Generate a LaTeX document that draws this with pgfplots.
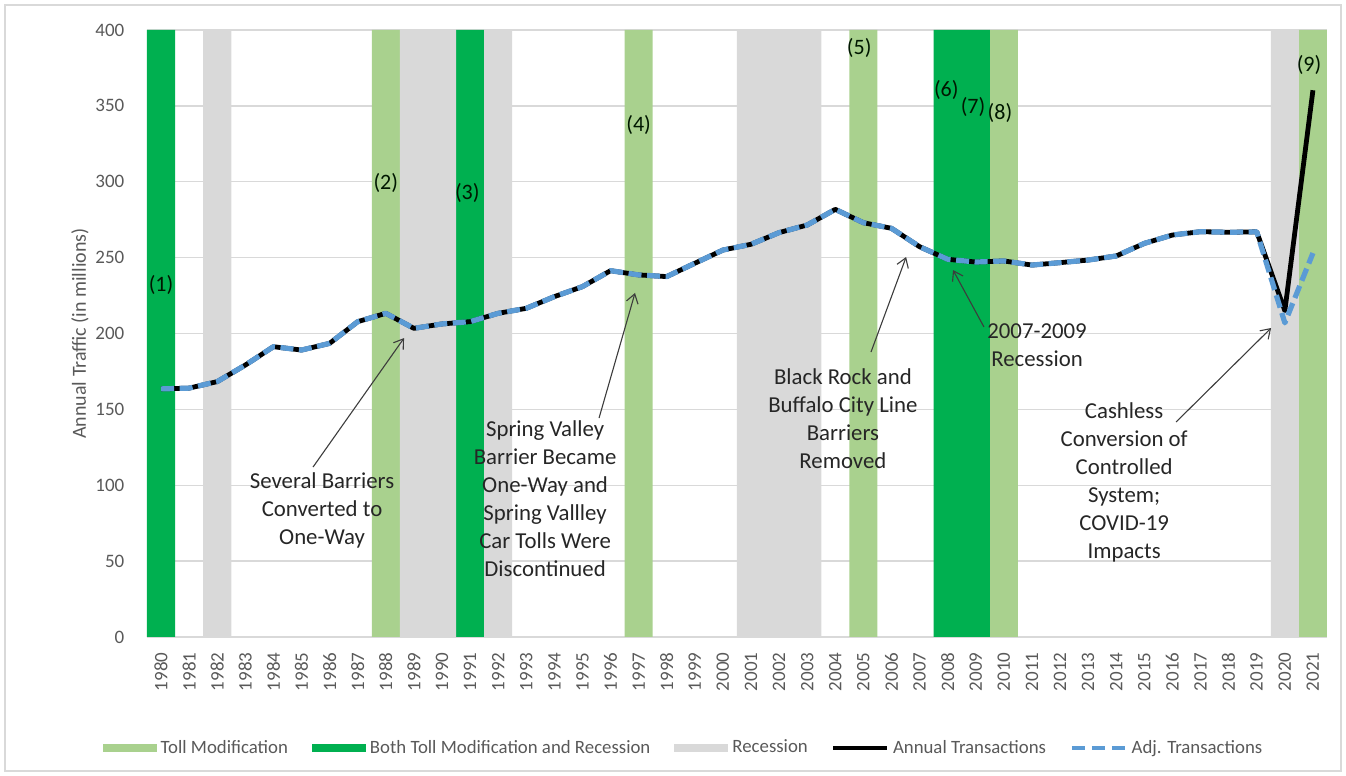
\documentclass[border=0pt]{standalone}
\usepackage{fontspec}
\setmainfont{Carlito}
\usepackage{pgfplots}
\usepackage{pgfplotstable}
\pgfplotsset{compat=1.18}
\usetikzlibrary{arrows.meta}

\definecolor{tollgreen}{HTML}{A9D18E}
\definecolor{bothgreen}{HTML}{00B050}
\definecolor{recgray}{HTML}{D9D9D9}
\definecolor{adjblue}{HTML}{5B9BD5}
\definecolor{axisgray}{HTML}{595959}
\definecolor{gridgray}{HTML}{D9D9D9}
\definecolor{notegray}{HTML}{262626}

% Annual traffic (millions of transactions)
\pgfplotstableread{
year annual adj
1980 163.5 163.5
1981 164.0 164.0
1982 168.3 168.3
1983 179.2 179.2
1984 191.3 191.3
1985 189.1 189.1
1986 193.5 193.5
1987 207.8 207.8
1988 213.3 213.3
1989 203.4 203.4
1990 206.3 206.3
1991 207.8 207.8
1992 213.3 213.3
1993 216.6 216.6
1994 224.3 224.3
1995 230.9 230.9
1996 241.4 241.4
1997 238.6 238.6
1998 237.5 237.5
1999 246.3 246.3
2000 255.0 255.0
2001 258.8 258.8
2002 266.5 266.5
2003 271.5 271.5
2004 281.8 281.8
2005 273.0 273.0
2006 269.3 269.3
2007 257.2 257.2
2008 248.9 248.9
2009 247.1 247.1
2010 247.8 247.8
2011 245.1 245.1
2012 246.7 246.7
2013 248.4 248.4
2014 251.1 251.1
2015 259.4 259.4
2016 264.9 264.9
2017 267.1 267.1
2018 266.7 266.7
2019 267.0 267.0
2020 215.0 207.0
2021 360.3 253.0
}\traffic

% Years with a toll modification
\pgfplotstableread{
year h
1988 400
1997 400
2005 400
2010 400
2021 400
}\tollyears

% Years with both a toll modification and a recession
\pgfplotstableread{
year h
1980 400
1991 400
2008 400
2009 400
}\bothyears

% Recession years
\pgfplotstableread{
year h
1982 400
1989 400
1990 400
1992 400
2001 400
2002 400
2003 400
2020 400
}\recyears

\begin{document}
\begin{tikzpicture}
\begin{axis}[
  scale only axis,
  width=590pt, height=303.5pt,
  xmin=1979.5, xmax=2021.5,
  ymin=0, ymax=400,
  xtick={1980,...,2021},
  ytick={0,50,...,400},
  axis x line*=bottom,
  axis y line*=left,
  x axis line style={draw=gridgray, line width=0.8pt, -},
  y axis line style={draw=none},
  major tick length=0pt,
  ymajorgrids,
  grid style={gridgray, line width=0.7pt},
  /pgf/number format/assume math mode=true,
  /pgf/number format/1000 sep={},
  tick label style={font=\fontsize{9.5}{11}\selectfont, text=axisgray},
  x tick label style={rotate=90, anchor=east},
  xticklabel shift=4.3pt,
  yticklabel shift=7.8pt,
  every axis y label/.style={at={(axis description cs:-0.0568,0.5)}, rotate=90, anchor=center},
  ylabel={Annual Traffic (in millions)},
  ylabel style={font=\fontsize{10}{12}\selectfont, text=axisgray},
  legend columns=5,
  legend style={draw=none, fill=none,
    at={(axis description cs:0.4555,-0.1829)}, anchor=center,
    font=\fontsize{9.4}{11}\selectfont, text=axisgray,
    /tikz/every even column/.append style={column sep=10pt}},
  clip=false,
]
\addplot[ybar, bar width=1, bar shift=0pt, fill=tollgreen, draw=none,
  legend image code/.code={\fill[tollgreen] (0pt,-2.2pt) rectangle (27pt,2.2pt);}]
  table[x=year, y=h] {\tollyears};
\addlegendentry{Toll Modification}
\addplot[ybar, bar width=1, bar shift=0pt, fill=bothgreen, draw=none,
  legend image code/.code={\fill[bothgreen] (0pt,-2.2pt) rectangle (27pt,2.2pt);}]
  table[x=year, y=h] {\bothyears};
\addlegendentry{Both Toll Modification and Recession}
\addplot[ybar, bar width=1, bar shift=0pt, fill=recgray, draw=none,
  legend image code/.code={\fill[recgray] (0pt,-2.2pt) rectangle (27pt,2.2pt);}]
  table[x=year, y=h] {\recyears};
\addlegendentry{Recession}
\addplot[black, line width=2.4pt, line join=round, mark=none,
  legend image code/.code={\draw[black, line width=1.6pt] (0pt,0pt) -- (27pt,0pt);}]
  table[x=year, y=annual] {\traffic};
\addlegendentry{Annual Transactions}
\addplot[adjblue, line width=2.6pt, line join=round, mark=none, dash pattern=on 6.5pt off 2.8pt,
  legend image code/.code={\draw[adjblue, line width=1.8pt, dash pattern=on 6.5pt off 3.5pt] (0pt,0pt) -- (27pt,0pt);}]
  table[x=year, y=adj] {\traffic};
\addlegendentry{Adj. Transactions}

% Event numbers
\begin{scope}[every node/.style={font=\fontsize{11}{13}\selectfont, text=black!85!green!60!black, inner sep=0pt}]
\node at (axis cs:1980,232) {(1)};
\node at (axis cs:1988,299.2) {(2)};
\node at (axis cs:1990.9,292.6) {(3)};
\node at (axis cs:1997,337.4) {(4)};
\node at (axis cs:2004.85,388.1) {(5)};
\node at (axis cs:2007.95,360.5) {(6)};
\node at (axis cs:2008.9,349.3) {(7)};
\node at (axis cs:2009.86,345.3) {(8)};
\node at (axis cs:2020.86,376.9) {(9)};
\end{scope}

% Annotations
\begin{scope}[every node/.style={font=\fontsize{11.4}{14}\selectfont, text=notegray, align=center, inner sep=0pt},
  arr/.style={draw=notegray!90, line width=0.55pt, -{Straight Barb[length=4.5pt,width=6pt]}}]
\node at (axis cs:1985.73,83.7) {Several Barriers\\Converted to\\One-Way};
\draw[arr] (axis cs:1985.41,112.0) -- (axis cs:1988.65,197.0);
\node at (axis cs:1993.67,90.9) {Spring Valley\\Barrier Became\\One-Way and\\Spring Vallley\\Car Tolls Were\\Discontinued};
\draw[arr] (axis cs:1995.59,144.3) -- (axis cs:1996.87,226.7);
\node at (axis cs:2004.27,143.7) {Black Rock and\\Buffalo City Line\\Barriers\\Removed};
\draw[arr] (axis cs:2005.27,187.8) -- (axis cs:2006.52,250.4);
\node at (axis cs:2011.18,192.1) {2007-2009\\Recession};
\draw[arr] (axis cs:2009.29,204.3) -- (axis cs:2008.19,241.8);
\node at (axis cs:2014.28,101.8) {Cashless\\Conversion of\\Controlled\\System;\\COVID-19\\Impacts};
\draw[arr] (axis cs:2016.13,141.7) -- (axis cs:2019.51,203.6);
\end{scope}
\end{axis}
% Chart frame
\draw[gridgray, line width=0.8pt] (-71pt,-67pt) rectangle (597pt,316pt);
\path[use as bounding box] (-73.5pt,-69.5pt) rectangle (599.5pt,318.5pt);
\end{tikzpicture}
\end{document}
